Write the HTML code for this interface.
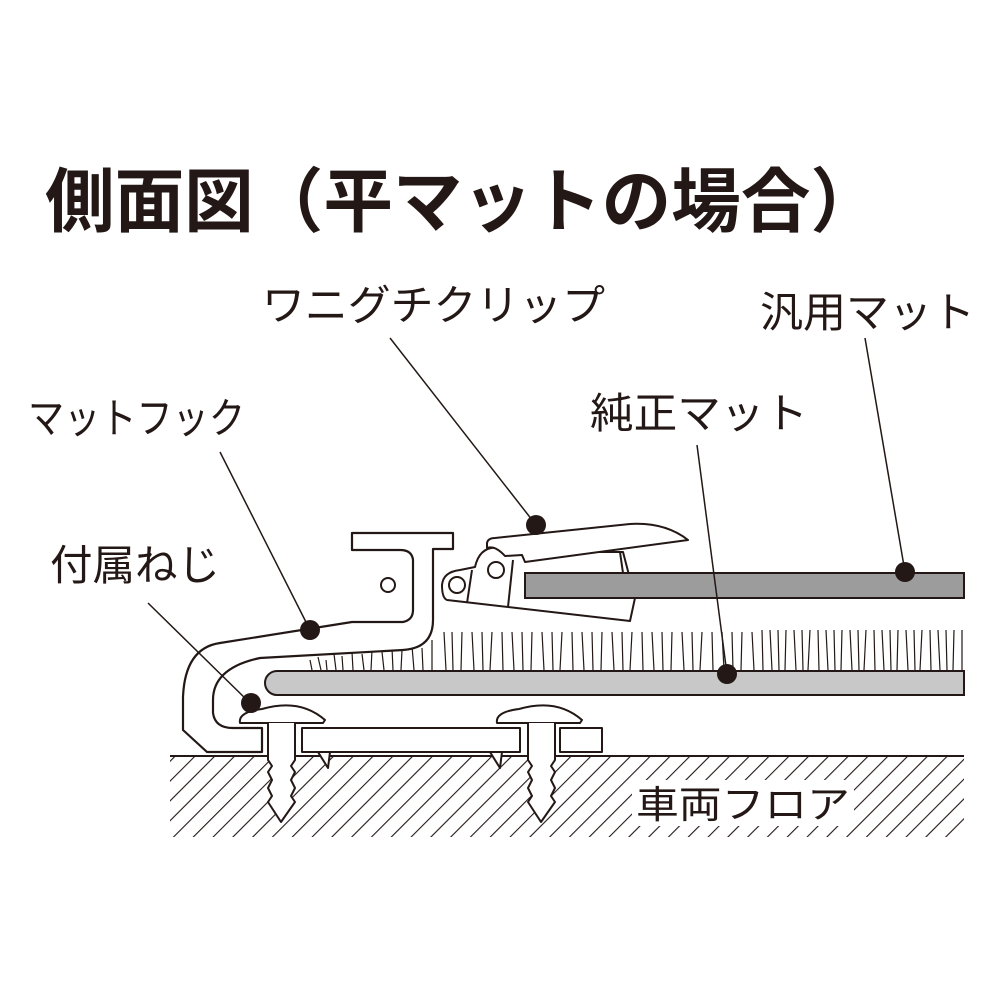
<!DOCTYPE html>
<html><head><meta charset="utf-8"><style>
html,body{margin:0;padding:0;background:#fff;}
svg{display:block}
text{font-family:"Liberation Sans","Noto Sans CJK JP",sans-serif;fill:#231815}
</style></head><body>
<svg width="1000" height="1000" viewBox="0 0 1000 1000" xmlns="http://www.w3.org/2000/svg">
<defs>
<pattern id="h" patternUnits="userSpaceOnUse" width="14" height="14" patternTransform="rotate(45)">
<line x1="0" y1="0" x2="0" y2="14" stroke="#231815" stroke-width="2.2"/>
</pattern>
<clipPath id="fc"><rect x="170" y="757" width="794" height="80"/></clipPath>
</defs>
<text x="45" y="226" font-size="70" font-weight="bold" textLength="835" lengthAdjust="spacingAndGlyphs">側面図（平マットの場合）</text>
<g font-size="42">
<text x="262" y="320" textLength="343" lengthAdjust="spacingAndGlyphs">ワニグチクリップ</text>
<text x="760" y="327" textLength="215" lengthAdjust="spacingAndGlyphs">汎用マット</text>
<text x="28" y="433" textLength="217" lengthAdjust="spacingAndGlyphs">マットフック</text>
<text x="590" y="428" textLength="218" lengthAdjust="spacingAndGlyphs">純正マット</text>
<text x="50" y="580" textLength="170" lengthAdjust="spacingAndGlyphs">付属ねじ</text>
</g>
<!-- floor -->
<rect x="170" y="757" width="794" height="80" fill="url(#h)" clip-path="url(#fc)"/>
<line x1="170" y1="756" x2="964" y2="756" stroke="#231815" stroke-width="2"/>
<rect x="632" y="780" width="222" height="46" fill="#fff"/>
<text x="636" y="818" font-size="38" textLength="214" lengthAdjust="spacingAndGlyphs">車両フロア</text>
<!-- fibers -->
<g stroke="#231815" stroke-width="1.2">
<path d="M310 660l2 10M318 657l3 13M326 660l1 10M334 654l2 16M342 656l1 14M352 652l1 18M362 654l2 16M372 650l-1 20M382 652l2 18M392 648l1 22M402 650l-1 20M412 646l2 24M422 648l1 22M432 640l0 30M444 632l2 38M452 632l1 38M462 632l-1 38M472 632l2 38M482 632l1 38M492 632l-2 38M502 632l1 38M512 632l2 38M522 632l1 38M532 632l-1 38M542 632l2 38M552 632l1 38M562 632l-2 38M572 632l1 38M582 632l2 38M592 632l1 38M602 632l-1 38M612 632l2 38M622 632l1 38M632 632l-2 38M642 632l1 38M652 632l2 38M662 632l1 38M672 632l-1 38M682 632l2 38M692 632l1 38M702 632l-2 38M712 632l1 38M722 632l2 38M732 632l1 38M742 632l-1 38M752 632l2 38M762 630l1 40M770 630l2 40M778 630l1 40M786 630l-1 40M794 630l2 40M802 630l1 40M810 630l-2 40M818 630l1 40M826 630l2 40M834 630l1 40M842 630l-1 40M850 630l2 40M858 630l1 40M866 630l-2 40M874 630l1 40M882 630l2 40M890 630l1 40M898 630l-1 40M906 630l2 40M914 630l1 40M922 630l-2 40M930 630l1 40M938 630l2 40M946 630l1 40M954 630l-1 40M962 630l0 40"/>
</g>
<!-- genuine mat -->
<path d="M277 671H964V695H277a12 12 0 0 1 0-24z" fill="#c8c8c8" stroke="#231815" stroke-width="2"/>
<!-- hook -->
<path d="M352 533H453V549H433V620Q433 648 403 650L260 658Q213 668 213 700V713Q215 728 233 728H262V752H207L183 730V697Q185 648 220 643L352 622H403Q413 620 413 610V560Q412 550 400 550H352Z" fill="#fff" stroke="#231815" stroke-width="2.2" stroke-linejoin="round"/>
<circle cx="388" cy="585" r="7" fill="#fff" stroke="#231815" stroke-width="2"/>
<!-- clip lower body -->
<path d="M447 600L630 621L635 598L623 552L520 552L500 548Q480 545 475 567L460 570Q443 572 442 585Q442 598 447 600Z" fill="#fff" stroke="#231815" stroke-width="2" stroke-linejoin="round"/>
<line x1="472" y1="570" x2="467" y2="603" stroke="#231815" stroke-width="2"/>
<line x1="513" y1="560" x2="508" y2="607" stroke="#231815" stroke-width="2"/>
<line x1="620" y1="552" x2="623" y2="573" stroke="#231815" stroke-width="2"/>
<!-- generic mat -->
<rect x="525" y="573" width="439" height="25" fill="#9c9c9c" stroke="#231815" stroke-width="2"/>
<!-- upper lever -->
<path d="M487 543Q488 538 495 538L630 524Q665 522 688 540L525 562L522 555L505 556Q495 545 487 548Z" fill="#fff" stroke="#231815" stroke-width="2" stroke-linejoin="round"/>
<circle cx="457" cy="585" r="8" fill="#fff" stroke="#231815" stroke-width="2"/>
<circle cx="496" cy="570" r="8" fill="#fff" stroke="#231815" stroke-width="2"/>
<!-- screws -->
<g fill="#fff" stroke="#231815" stroke-width="2" stroke-linejoin="round">
<path d="M240 723Q238 712 262 709Q300 698 325 720L323 723Z"/>
<path d="M268 723V760L272 766L268 772L272 780L268 788L272 796L268 802L281 822L295 802L291 796L295 788L291 780L295 772L291 766L295 760V723"/>
<path d="M497 723Q495 712 519 709Q557 698 582 720L580 723Z"/>
<path d="M528 723V760L532 766L528 772L532 780L528 788L532 796L528 802L541 822L555 802L551 796L555 788L551 780L555 772L551 766L555 760V723"/>
<rect x="302" y="728" width="218" height="24"/>
<rect x="560" y="728" width="42" height="24"/>
<path d="M318 752L328 768L330 752Z"/>
<path d="M490 752L500 768L502 752Z"/>
</g>
<!-- leaders -->
<g stroke="#231815" stroke-width="1.5">
<line x1="390" y1="338" x2="536" y2="525"/>
<line x1="865" y1="338" x2="905" y2="572"/>
<line x1="220" y1="452" x2="310" y2="630"/>
<line x1="697" y1="445" x2="727" y2="674"/>
<line x1="148" y1="603" x2="250" y2="703"/>
</g>
<g fill="#231815">
<circle cx="536" cy="525" r="10"/>
<circle cx="905" cy="572" r="10"/>
<circle cx="310" cy="630" r="10"/>
<circle cx="727" cy="674" r="10"/>
<circle cx="251" cy="703" r="10"/>
</g>
</svg>
</body></html>
